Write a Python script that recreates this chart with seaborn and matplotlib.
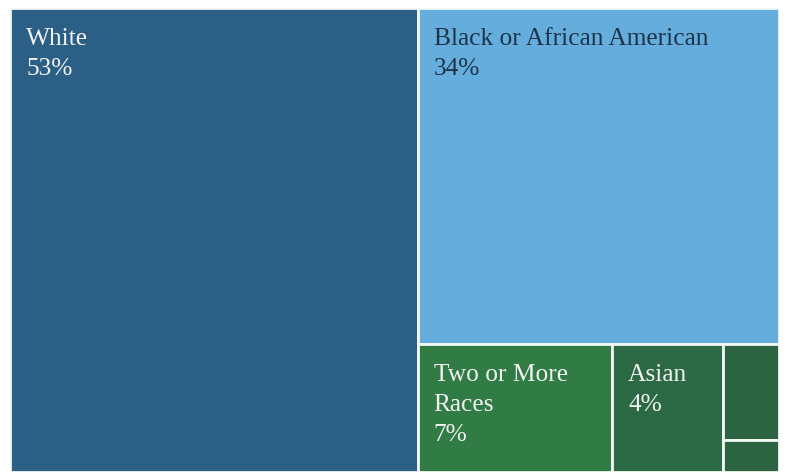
import matplotlib
matplotlib.use("Agg")
import matplotlib.pyplot as plt
from matplotlib.patches import Rectangle
import seaborn as sns

# Racial composition shares (percent)
categories = ["White", "Black or African American", "Two or More\nRaces", "Asian",
              "Some Other Race", "American Indian"]
shares = [53, 34, 7, 4, 1.5, 0.5]
show_label = [True, True, True, True, False, False]
fill_colors = ["#2b5f86", "#64addd", "#317b45", "#2c6a46", "#2c6442", "#2c6442"]
text_colors = ["#f2f2f2", "#1e3346", "#f2f2f2", "#f2f2f2", "#f2f2f2", "#f2f2f2"]

sns.set_theme(style="white")
plt.rcParams["font.family"] = ["Liberation Serif", "DejaVu Serif"]

W, H = 769.0, 464.0


def worst(row, side):
    s = sum(row)
    return max(max(side * side * r / (s * s), s * s / (side * side * r)) for r in row)


def squarify(areas, x, y, w, h):
    rects = []
    areas = list(areas)
    while areas:
        side = min(w, h)
        row = [areas[0]]
        i = 1
        while i < len(areas) and worst(row + [areas[i]], side) <= worst(row, side):
            row.append(areas[i])
            i += 1
        areas = areas[i:]
        s = sum(row)
        if w >= h:
            cw = s / h
            cy = y
            for a in row:
                rh = a / cw
                rects.append((x, cy, cw, rh))
                cy += rh
            x += cw
            w -= cw
        else:
            rh = s / w
            cx = x
            for a in row:
                rw = a / rh
                rects.append((cx, y, rw, rh))
                cx += rw
            y += rh
            h -= rh
    return rects


total = sum(shares)
areas = [v / total * W * H for v in shares]
rects = squarify(areas, 0, 0, W, H)

fig = plt.figure(figsize=(7.88, 4.72), dpi=100)
ax = fig.add_axes([10 / 788, 0, W / 788, H / 472])
ax.set_xlim(0, W)
ax.set_ylim(H, 0)
ax.axis("off")

for (rx, ry, rw, rh), name, v, show, fc, tc in zip(rects, categories, shares,
                                                   show_label, fill_colors, text_colors):
    ax.add_patch(Rectangle((rx, ry), rw, rh, facecolor=fc, edgecolor="#f4f8f4",
                           linewidth=2.0))
    if show:
        lines = name.split("\n") + [f"{v:g}%"]
        for k, line in enumerate(lines):
            ax.text(rx + 16, ry + 37 + 30 * k, line, color=tc, fontsize=18.3,
                    ha="left", va="baseline")

fig.savefig("out.png", dpi=100, facecolor="white")
